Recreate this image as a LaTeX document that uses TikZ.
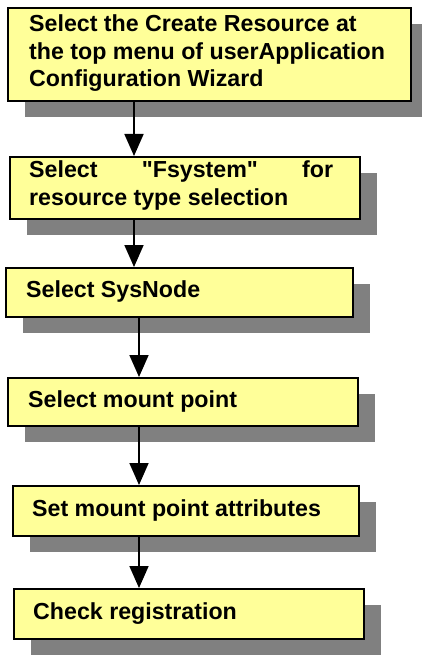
\documentclass[tikz,border=0pt]{standalone}
\usepackage{fontspec}
\setmainfont{Liberation Sans}[Ligatures=TeXOff]
\usetikzlibrary{arrows.meta}
\definecolor{boxyellow}{RGB}{255,255,153}
\definecolor{shadowgray}{RGB}{128,128,128}
\begin{document}
\begin{tikzpicture}[x=1pt,y=-1pt,
  box/.style={draw=black, line width=1.6pt, fill=boxyellow, anchor=north west, inner sep=0pt},
  shade/.style={fill=shadowgray},
  lbl/.style={anchor=base west, inner sep=0pt, font=\fontsize{23.2}{27.5}\selectfont\bfseries, align=left},
  arr/.style={line width=1.8pt, -{Triangle[width=19pt,length=22pt]}}]
\useasboundingbox (0,0) rectangle (422,655);
% shadows
\fill[shade] (25,24) rectangle (422,117);
\fill[shade] (27,173) rectangle (377,235);
\fill[shade] (23,284) rectangle (370,333);
\fill[shade] (25,394) rectangle (375,442);
\fill[shade] (30,502) rectangle (376,552);
\fill[shade] (31,605) rectangle (381,655);
% boxes
\node[box, minimum width=403pt, minimum height=93pt] (b1) at (7,7) {};
\node[box, minimum width=350pt, minimum height=62pt] (b2) at (9,156) {};
\node[box, minimum width=347pt, minimum height=49pt] (b3) at (5,267) {};
\node[box, minimum width=350pt, minimum height=48pt] (b4) at (7,377) {};
\node[box, minimum width=346pt, minimum height=50pt] (b5) at (12,485) {};
\node[box, minimum width=350pt, minimum height=50pt] (b6) at (13,588) {};
% labels (base anchor = baseline of the last line)
\node[lbl] (t1) at (29,87) {Select the Create Resource at\\the top menu of userApplication\\Configuration Wizard};
\node[lbl] (t2) at (29,205) {\makebox[304pt][s]{Select "Fsystem" for}\\resource type selection};
\node[lbl] (t3) at (26,297) {Select SysNode};
\node[lbl] (t4) at (28,407) {Select mount point};
\node[lbl] (t5) at (32,516) {Set mount point attributes};
\node[lbl] (t6) at (33,619) {Check registration};
% arrows
\coordinate (xa) at (134,0);
\coordinate (xb) at (139,0);
\draw[arr] (b1.south -| xa) -- (b2.north -| xa);
\draw[arr] (b2.south -| xa) -- (b3.north -| xa);
\draw[arr] (b3.south -| xb) -- (b4.north -| xb);
\draw[arr] (b4.south -| xb) -- (b5.north -| xb);
\draw[arr] (b5.south -| xb) -- (b6.north -| xb);
\end{tikzpicture}
\end{document}
